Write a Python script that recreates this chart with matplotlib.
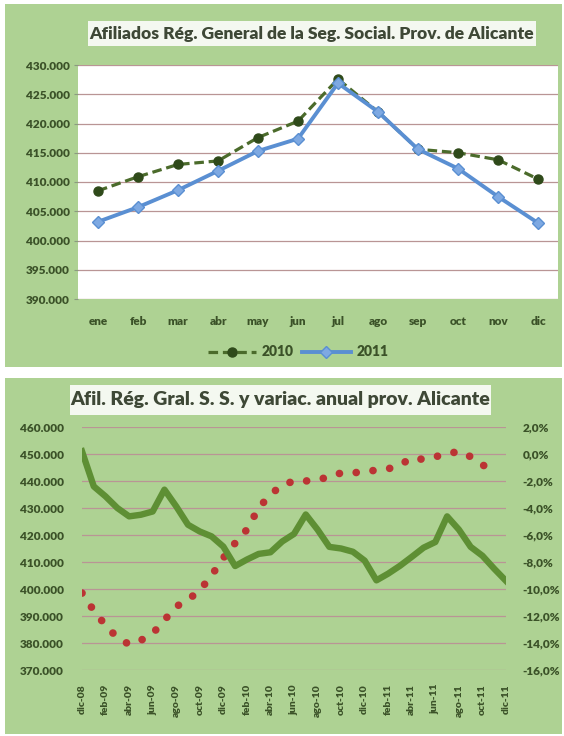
import matplotlib
matplotlib.use('Agg')
import matplotlib.pyplot as plt
from matplotlib.patches import Rectangle
from matplotlib.ticker import FuncFormatter, MultipleLocator

plt.rcParams['font.family'] = ['Lato', 'DejaVu Sans']

# datos grafico superior (afiliados por mes)
meses = ['ene', 'feb', 'mar', 'abr', 'may', 'jun', 'jul', 'ago', 'sep', 'oct', 'nov', 'dic']
afil_2010 = [408500, 410900, 413000, 413600, 417600, 420400, 427600, 422000, 415600, 415000, 413800, 410500]
afil_2011 = [403200, 405700, 408600, 411900, 415300, 417400, 426900, 422000, 415600, 412300, 407500, 403000]

# datos grafico inferior: dic-08 .. dic-11
afil_serie = [451000,
              438000, 434300, 430000, 426900, 427500, 428700, 436800, 430600, 423800, 421300, 419500, 415700,
              408500, 410900, 413000, 413600, 417600, 420400, 427600, 422000, 415600, 415000, 413800, 410500,
              403200, 405700, 408600, 411900, 415300, 417400, 426900, 422000, 415600, 412300, 407500, 403000]
var_anual = [-10.3, -11.6, -12.7, -13.6, -14.1, -13.8, -13.3, -12.3, -11.3, -10.8, -10.1, -9.0, -7.7,
             -6.6, -5.6, -4.0, -3.0, -2.3, -2.0, -2.0, -1.9, -1.7, -1.4, -1.4, -1.3,
             -1.2, -1.1, -0.8, -0.3, -0.4, -0.2, 0.0, 0.2, -0.2, -0.8, -1.3]
etiquetas = ['dic-08', 'feb-09', 'abr-09', 'jun-09', 'ago-09', 'oct-09', 'dic-09',
             'feb-10', 'abr-10', 'jun-10', 'ago-10', 'oct-10', 'dic-10',
             'feb-11', 'abr-11', 'jun-11', 'ago-11', 'oct-11', 'dic-11']

W, H = 564, 736
VERDE = '#aed293'
TXT = '#3b5228'
GRID = '#b99595'

def rect(x0, y0, x1, y1):
    return [x0 / W, 1 - y1 / H, (x1 - x0) / W, (y1 - y0) / H]

def miles(v, pos=None):
    return '{:,.0f}'.format(v).replace(',', '.')

def pct(v, pos=None):
    return '{:.1f}%'.format(v).replace('.', ',')

fig = plt.figure(figsize=(W / 100, H / 100), dpi=100, facecolor='white')

# fondos verdes (por debajo de los ejes)
fig.patches.append(Rectangle((5 / W, 1 - 367 / H), 557 / W, 363 / H, transform=fig.transFigure,
                             facecolor=VERDE, edgecolor='none', zorder=-10))
fig.patches.append(Rectangle((5 / W, 1 - 734 / H), 557 / W, 356 / H, transform=fig.transFigure,
                             facecolor=VERDE, edgecolor='none', zorder=-10))

def titulo(x0, y0, x1, y1, texto, size):
    fig.patches.append(Rectangle((x0 / W, 1 - y1 / H), (x1 - x0) / W, (y1 - y0) / H,
                                 transform=fig.transFigure, facecolor='#f4f8f0', edgecolor='none', zorder=-5))
    fig.text((x0 + x1) / 2 / W, 1 - (y0 + y1) / 2 / H, texto, ha='center', va='center',
             fontsize=size, fontweight='heavy', color='#3e4836', zorder=2)

titulo(88, 21, 536, 46, 'Afiliados Rég. General de la Seg. Social. Prov. de Alicante', 12.6)
titulo(70, 385, 491, 415, 'Afil. Rég. Gral. S. S. y variac. anual prov. Alicante', 14)

# ---- grafico superior
ax = fig.add_axes(rect(78, 65, 558, 299))
ax.set_facecolor('white')
x = range(len(meses))
ax.plot(x, afil_2010, color='#4b6b2b', lw=2.3, ls=(0, (3, 1.5)), marker='o', ms=6.5,
        mfc='#2f4a1a', mec='#2f4a1a', label='2010', zorder=3)
ax.plot(x, afil_2011, color='#5a8fd2', lw=2.8, marker='D', ms=6.5,
        mfc='#7ea9e2', mec='#5a8fd2', label='2011', zorder=3)
ax.set_xlim(-0.5, 11.5)
ax.set_ylim(390000, 430000)
ax.yaxis.set_major_locator(MultipleLocator(5000))
ax.yaxis.set_major_formatter(FuncFormatter(miles))
ax.set_xticks(list(x))
ax.set_xticklabels(meses)
ax.grid(axis='y', color=GRID, lw=0.9)
ax.set_axisbelow(True)
for s in ax.spines.values():
    s.set_visible(False)
ax.tick_params(axis='y', length=3, color='#8a9a80', labelsize=8.5, labelcolor=TXT, pad=3)
ax.tick_params(axis='x', length=0, labelsize=8.5, labelcolor=TXT, pad=12)
for t in ax.get_xticklabels() + ax.get_yticklabels():
    t.set_fontweight('heavy')
leg = fig.legend(loc='center', bbox_to_anchor=(298 / W, 1 - 352 / H), ncol=2, frameon=False,
                 fontsize=10, handlelength=3.5, columnspacing=0.6, handletextpad=0.4)
for t in leg.get_texts():
    t.set_fontweight('heavy')
    t.set_color(TXT)

# ---- grafico inferior
ax2 = fig.add_axes(rect(82, 427, 506, 670))
ax2.set_facecolor('white')
n = range(len(afil_serie))
ax2.plot(n, afil_serie, color='#5e8f34', lw=4.6, solid_joinstyle='round', zorder=3)
ax2.set_ylim(370000, 460000)
ax2.yaxis.set_major_locator(MultipleLocator(10000))
ax2.yaxis.set_major_formatter(FuncFormatter(miles))
for s in ax2.spines.values():
    s.set_visible(False)

ax3 = ax2.twinx()
ax3.plot(range(len(var_anual)), var_anual, color='#bb3434', lw=5.5,
         ls=(0, (0.01, 2.2)), dash_capstyle='round', zorder=2)
ax3.set_ylim(-16, 2)
ax3.yaxis.set_major_locator(MultipleLocator(2))
ax3.yaxis.set_major_formatter(FuncFormatter(pct))
for s in ax3.spines.values():
    s.set_visible(False)
ax3.tick_params(axis='y', length=0, labelsize=8.5, labelcolor=TXT, pad=12)
for t in ax3.get_yticklabels():
    t.set_fontweight('heavy')

# verde por encima de los puntos rojos
ax2.set_zorder(ax3.get_zorder() + 1)
ax2.patch.set_visible(False)
ax2.set_xlim(0, len(afil_serie) - 1)
ax2.set_xticks(list(range(0, len(afil_serie), 2)))
ax2.set_xticklabels(etiquetas, rotation=90)
ax2.tick_params(axis='y', length=0, labelsize=8.5, labelcolor=TXT, pad=13)
ax2.tick_params(axis='x', length=0, labelsize=7.5, labelcolor=TXT, pad=10)
for t in ax2.get_xticklabels() + ax2.get_yticklabels():
    t.set_fontweight('heavy')
ax3.grid(axis='y', color=GRID, lw=0.9)
ax3.set_axisbelow(True)

fig.savefig('out.png', dpi=100, facecolor='white')
